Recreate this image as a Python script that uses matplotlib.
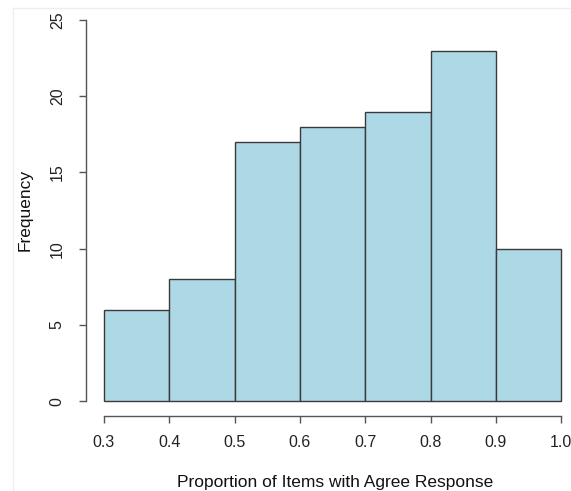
import matplotlib
matplotlib.use("Agg")
import matplotlib.pyplot as plt
from matplotlib.lines import Line2D

# histogram counts, bins of width 0.1
bin_edges = [0.3, 0.4, 0.5, 0.6, 0.7, 0.8, 0.9, 1.0]
counts = [6, 8, 17, 18, 19, 23, 10]
x_ticks = [0.3, 0.4, 0.5, 0.6, 0.7, 0.8, 0.9, 1.0]
x_tick_labels = ["0.3", "0.4", "0.5", "0.6", "0.7", "0.8", "0.9", "1.0"]
y_ticks = [0, 5, 10, 15, 20, 25]

plt.rcParams['font.family'] = ['Liberation Sans', 'DejaVu Sans']

fig = plt.figure(figsize=(5.71, 4.91), dpi=100)
ax = fig.add_axes([0.1501, 0.1521, 0.8646, 0.838])

lefts = bin_edges[:-1]
widths = [b - a for a, b in zip(bin_edges[:-1], bin_edges[1:])]
ax.bar(lefts, counts, width=widths, align='edge', color='#ADD8E6',
       edgecolor='#3a3a3a', linewidth=1.0)

ax.set_xlim(0.272, 1.028)
ax.set_ylim(-1, 26)

for s in ['top', 'right']:
    ax.spines[s].set_visible(False)
ax.spines['left'].set_bounds(0, 25)
ax.spines['bottom'].set_bounds(0.3, 1.0)
for s in ['left', 'bottom']:
    ax.spines[s].set_color('#555555')
    ax.spines[s].set_linewidth(1.0)

ax.set_xticks(x_ticks)
ax.set_xticklabels(x_tick_labels)
ax.set_yticks(y_ticks)
ax.set_yticklabels([str(v) for v in y_ticks], rotation=90, va='center')
ax.tick_params(axis='both', direction='out', length=5, width=1.0,
               color='#555555', labelsize=11.5, labelcolor='#222222')
ax.tick_params(axis='x', pad=8.5)
ax.tick_params(axis='y', pad=10)

fig.text(0.5866, 1 - 482 / 491, "Proportion of Items with Agree Response",
         ha='center', va='center', fontsize=12.5, color='#111111')
fig.text(0.044, 0.572, "Frequency", rotation=90, ha='center', va='center',
         fontsize=12.5, color='#111111')

# faint screenshot frame
fig.add_artist(Line2D([13 / 571, 1], [1 - 8 / 491, 1 - 8 / 491],
                      transform=fig.transFigure, color='#eeeeee', lw=1))
fig.add_artist(Line2D([13 / 571, 13 / 571], [0, 1 - 8 / 491],
                      transform=fig.transFigure, color='#eeeeee', lw=1))

fig.savefig("out.png", dpi=100)
